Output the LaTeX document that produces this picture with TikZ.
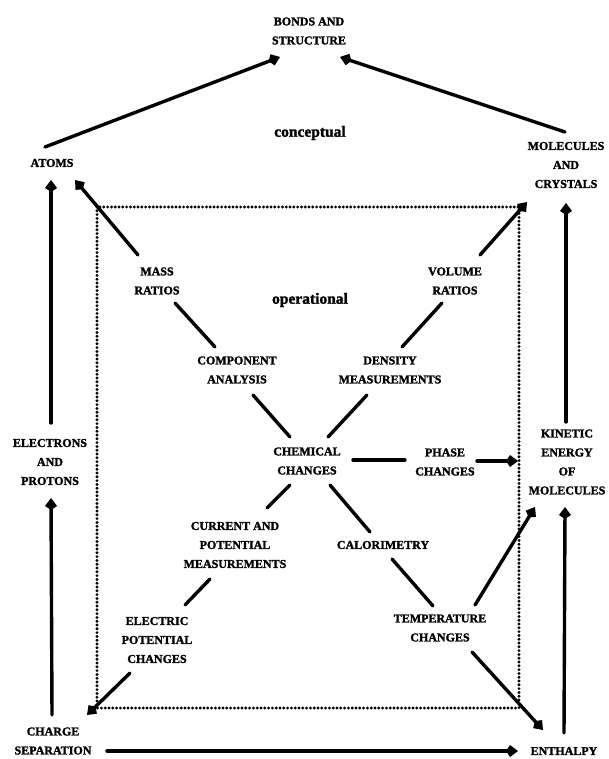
\documentclass[tikz,border=0pt]{standalone}
\usepackage{fontspec}
\setmainfont{Liberation Serif}
\newfontfamily\heavy{Liberation Serif}[BoldFeatures={FakeBold=1.6}]
\usetikzlibrary{arrows.meta}
\begin{document}
\begin{tikzpicture}[x=1pt,y=-1pt,
  lbl/.style={font=\heavy\fontsize{12}{19}\selectfont\bfseries, align=center, inner sep=0pt},
  zone/.style={font=\heavy\fontsize{15.5}{16}\selectfont\bfseries, inner sep=0pt},
  link/.style={line width=3.4pt, line cap=round},
  lead/.style={link, -{Kite[length=12pt,width=12pt,inset=4pt]}},
  dotframe/.style={line width=3.2pt, line cap=round, dash pattern=on 0pt off 3.8pt}
]
\useasboundingbox (0,0) rectangle (608,759);

% labels
\node[lbl] (bonds) at (309,31) {BONDS AND\\STRUCTURE};
\node[zone] (concept) at (310,133) {conceptual};
\node[lbl] (atoms) at (52,163) {ATOMS};
\node[lbl] (mol) at (566,165) {MOLECULES\\AND\\CRYSTALS};
\node[zone] (oper) at (310,300) {operational};
\node[lbl] (mass) at (157,281) {MASS\\RATIOS};
\node[lbl] (volume) at (455,281) {VOLUME\\RATIOS};
\node[lbl] (comp) at (237,370) {COMPONENT\\ANALYSIS};
\node[lbl] (density) at (390,370) {DENSITY\\MEASUREMENTS};
\node[lbl] (chem) at (307,461) {CHEMICAL\\CHANGES};
\node[lbl] (phase) at (445,462) {PHASE\\CHANGES};
\node[lbl] (ke) at (567,462) {KINETIC\\ENERGY\\OF\\MOLECULES};
\node[lbl] (elec) at (50,462) {ELECTRONS\\AND\\PROTONS};
\node[lbl] (current) at (235,545) {CURRENT AND\\POTENTIAL\\MEASUREMENTS};
\node[lbl] (calor) at (383,545) {CALORIMETRY};
\node[lbl] (epot) at (157,640) {ELECTRIC\\POTENTIAL\\CHANGES};
\node[lbl] (temp) at (440,628) {TEMPERATURE\\CHANGES};
\node[lbl] (charge) at (53,741) {CHARGE\\SEPARATION};
\node[lbl] (enth) at (564,751) {ENTHALPY};

% boundary of the operational level
\draw[dotframe] (97,207) rectangle (519,708);

% conceptual level
\draw[lead] ([shift={(-7,-16)}]atoms.center) -- ([shift={(-29,26)}]bonds.center);
\draw[lead] ([shift={(-1,-33)}]mol.center) -- ([shift={(31,26)}]bonds.center);
\draw[lead] ([shift={(1,-39)}]elec.center) -- ([shift={(-1,17)}]atoms.center);
\draw[lead] ([shift={(-1,-26)}]charge.center) -- ([shift={(1,36)}]elec.center);
\draw[lead] ([shift={(-1,-40)}]ke.center) -- ([shift={(0,38)}]mol.center);
\draw[lead] ([shift={(0,-18)}]enth.center) -- ([shift={(-2,45)}]ke.center);
\draw[lead] ([shift={(54,10)}]charge.center) -- ([shift={(-46,0)}]enth.center);

% operational level
\draw[lead] ([shift={(-19,-26)}]mass.center) -- ([shift={(23,17)}]atoms.center);
\draw[link] ([shift={(18,22)}]mass.center) -- ([shift={(-22,-23)}]comp.center);
\draw[link] ([shift={(16,25)}]comp.center) -- ([shift={(-17,-24)}]chem.center);
\draw[lead] ([shift={(25,-26)}]volume.center) -- ([shift={(-39,37)}]mol.center);
\draw[link] ([shift={(-13,22)}]volume.center) -- ([shift={(12,-23)}]density.center);
\draw[link] ([shift={(-23,25)}]density.center) -- ([shift={(21,-24)}]chem.center);
\draw[link] ([shift={(46,-1)}]chem.center) -- ([shift={(-40,-2)}]phase.center);
\draw[lead] ([shift={(32,-1)}]phase.center) -- ([shift={(-49,-1)}]ke.center);
\draw[link] ([shift={(-17,24)}]chem.center) -- ([shift={(32,-37)}]current.center);
\draw[link] ([shift={(23,24)}]chem.center) -- ([shift={(-13,-13)}]calor.center);
\draw[link] ([shift={(-25,34)}]current.center) -- ([shift={(28,-35)}]epot.center);
\draw[link] ([shift={(9,14)}]calor.center) -- ([shift={(-7,-22)}]temp.center);
\draw[lead] ([shift={(-27,33)}]epot.center) -- ([shift={(34,-26)}]charge.center);
\draw[lead] ([shift={(35,-23)}]temp.center) -- ([shift={(-32,45)}]ke.center);
\draw[lead] ([shift={(32,24)}]temp.center) -- ([shift={(-21,-21)}]enth.center);
\end{tikzpicture}
\end{document}
